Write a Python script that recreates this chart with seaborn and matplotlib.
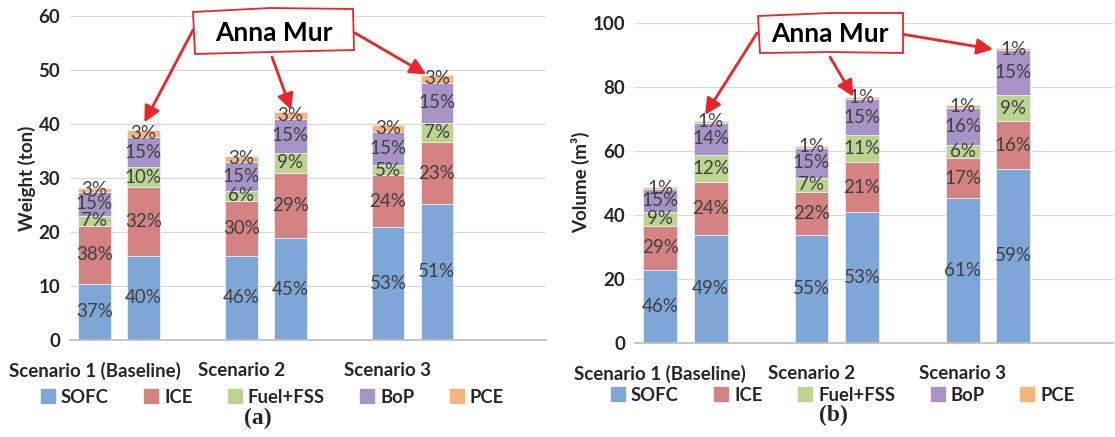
import matplotlib
matplotlib.use("Agg")
import matplotlib.pyplot as plt  # noqa: E402
import pandas as pd  # noqa: E402
import seaborn as sns  # noqa: E402
from matplotlib.lines import Line2D  # noqa: E402
from matplotlib.patches import Polygon  # noqa: E402

# ---------------- data ----------------
COMPONENTS = ["SOFC", "ICE", "Fuel+FSS", "BoP", "PCE"]
COLORS = ["#7ea6d6", "#d48282", "#bbd590", "#a893c6", "#f8b47e"]
SCENARIOS = ["Scenario 1 (Baseline)", "Scenario 2", "Scenario 3"]
BAR_POS = [0, 1, 3, 4, 6, 7]        # 2, 5 empty: gap between scenarios
TICK_POS = [0, 3, 6]

# (a) weight, ton  -- per bar: S1, S1+AM, S2, S2+AM, S3, S3+AM
W_SOFC = [10.4, 15.6, 15.6, 18.8, 20.9, 25.2]
W_ICE = [10.8, 12.7, 10.2, 12.2, 9.6, 11.4]
W_FUEL = [1.8, 3.7, 1.8, 3.7, 1.9, 3.6]
W_BOP = [4.5, 5.6, 5.4, 6.3, 6.1, 7.4]
W_PCE = [0.7, 1.3, 1.1, 1.2, 1.3, 1.5]
W_PCT = [["37%", "40%", "46%", "45%", "53%", "51%"],
         ["38%", "32%", "30%", "29%", "24%", "23%"],
         ["7%", "10%", "6%", "9%", "5%", "7%"],
         ["15%", "15%", "15%", "15%", "15%", "15%"],
         ["3%", "3%", "3%", "3%", "3%", "3%"]]

# (b) volume, m3
V_SOFC = [22.6, 33.8, 33.8, 40.7, 45.2, 54.3]
V_ICE = [14.0, 16.4, 13.3, 15.8, 12.5, 14.9]
V_FUEL = [4.3, 8.5, 4.5, 8.3, 4.2, 8.1]
V_BOP = [7.1, 10.1, 9.3, 11.4, 11.5, 14.1]
V_PCE = [0.6, 0.6, 0.6, 0.6, 0.8, 0.6]
V_PCT = [["46%", "49%", "55%", "53%", "61%", "59%"],
         ["29%", "24%", "22%", "21%", "17%", "16%"],
         ["9%", "12%", "7%", "11%", "6%", "9%"],
         ["15%", "14%", "15%", "15%", "16%", "15%"],
         ["1%", "1%", "1%", "1%", "1%", "1%"]]

sns.set_theme(style="white")
plt.rcParams["font.family"] = ["Lato", "DejaVu Sans"]

FW, FH = 1115, 437
fig = plt.figure(figsize=(FW / 100, FH / 100), dpi=100)


def px(x, y):
    """figure pixel (from top-left) -> figure fraction"""
    return x / FW, 1 - y / FH


def stacked(ax, series, pct, ymax, xmax, ylabel, ticks):
    df = pd.concat([pd.DataFrame({"pos": BAR_POS, "value": vals, "component": name})
                    for name, vals in zip(COMPONENTS, series)], ignore_index=True)
    sns.histplot(data=df, x="pos", weights="value", hue="component",
                 hue_order=COMPONENTS[::-1], palette=dict(zip(COMPONENTS, COLORS)),
                 multiple="stack", discrete=True, shrink=0.67, alpha=1,
                 edgecolor="#e8eef6", linewidth=0.6, legend=False, ax=ax)
    # percentage labels, centred on each segment
    base = [0.0] * len(BAR_POS)
    for vals, labels in zip(series, pct):
        for i, (x, v, lab) in enumerate(zip(BAR_POS, vals, labels)):
            ax.text(x, base[i] + v / 2, lab, ha="center", va="center",
                    fontsize=13.5, color="#404040")
            base[i] += v
    ax.set_xlim(-0.5, xmax)
    ax.set_ylim(0, ymax)
    ax.set_yticks(ticks)
    ax.set_xticks(TICK_POS, SCENARIOS)
    ax.set_xlabel("")
    ax.set_ylabel(ylabel, fontsize=13.5, fontweight="bold", labelpad=2)
    ax.tick_params(axis="both", length=0, labelsize=13.5, pad=7)
    ax.tick_params(axis="x", pad=16)
    for t in ax.get_xticklabels() + ax.get_yticklabels():
        t.set_fontweight("bold")
    ax.grid(axis="y", color="#d9d9d9", lw=0.9)
    ax.set_axisbelow(True)
    sns.despine(ax=ax, left=True)
    ax.spines["bottom"].set_color("#bfbfbf")
    return base


def callout(ax, box, text_xy, tails, tips):
    fig.add_artist(Polygon([px(*p) for p in box], closed=True, transform=fig.transFigure,
                           fc="white", ec="#e8262a", lw=1.3, zorder=5))
    fig.text(*px(*text_xy), "Anna Mur", ha="center", va="center", fontsize=19,
             fontweight="bold", color="black", zorder=6)
    for tail, tip in zip(tails, tips):
        ax.annotate("", xy=tip, xycoords="data",
                    xytext=px(*tail), textcoords="figure fraction",
                    arrowprops=dict(arrowstyle="-|>,head_length=0.8,head_width=0.4",
                                    color="#e8262a", lw=2, shrinkA=0, shrinkB=0),
                    zorder=4)


handles = [Line2D([], [], marker="s", ls="", color=c, markersize=10) for c in COLORS]
LEG_KW = dict(loc="center", ncol=5, frameon=False, handlelength=0.8, handletextpad=0.3,
              columnspacing=1.9, prop={"weight": "bold", "size": 13.3})

# ---------------- (a) weight ----------------
ax_a = fig.add_axes([70 / FW, 1 - 340 / FH, 476 / FW, 324 / FH])
tot_a = stacked(ax_a, [W_SOFC, W_ICE, W_FUEL, W_BOP, W_PCE], W_PCT, 60, 9.23,
                "Weight (ton)", range(0, 61, 10))
ax_a.legend(handles, COMPONENTS, bbox_to_anchor=(0.425, -0.176), **LEG_KW)
callout(ax_a, [(193, 12), (270, 8), (353, 9), (354, 50), (270, 52), (195, 54)],
        (274, 33), [(193, 30), (272, 57), (355, 33)],
        [(1.02, tot_a[1] + 1.4), (4.02, tot_a[3] + 0.4), (6.78, tot_a[5] + 0.1)])
fig.text(*px(258, 418), "(a)", ha="center", va="center", fontsize=17,
         fontweight="bold", family="Liberation Serif")

# ---------------- (b) volume ----------------
ax_b = fig.add_axes([635 / FW, 1 - 342.7 / FH, 478 / FW, 320 / FH])
tot_b = stacked(ax_b, [V_SOFC, V_ICE, V_FUEL, V_BOP, V_PCE], V_PCT, 100, 8.98,
                "Volume (m³)", range(0, 101, 20))
ax_b.legend(handles, COMPONENTS, bbox_to_anchor=(0.434, -0.164), **LEG_KW)
callout(ax_b, [(758, 16), (830, 13), (903, 13), (903, 53), (830, 52), (760, 53)],
        (830, 34), [(757, 33), (830, 57), (895, 33)],
        [(0.89, tot_b[1] + 1.8), (3.83, tot_b[3] + 0.1), (6.6, tot_b[5] - 0.3)])
fig.text(*px(833, 415), "(b)", ha="center", va="center", fontsize=17,
         fontweight="bold", family="Liberation Serif")

fig.savefig("out.png", dpi=100)
